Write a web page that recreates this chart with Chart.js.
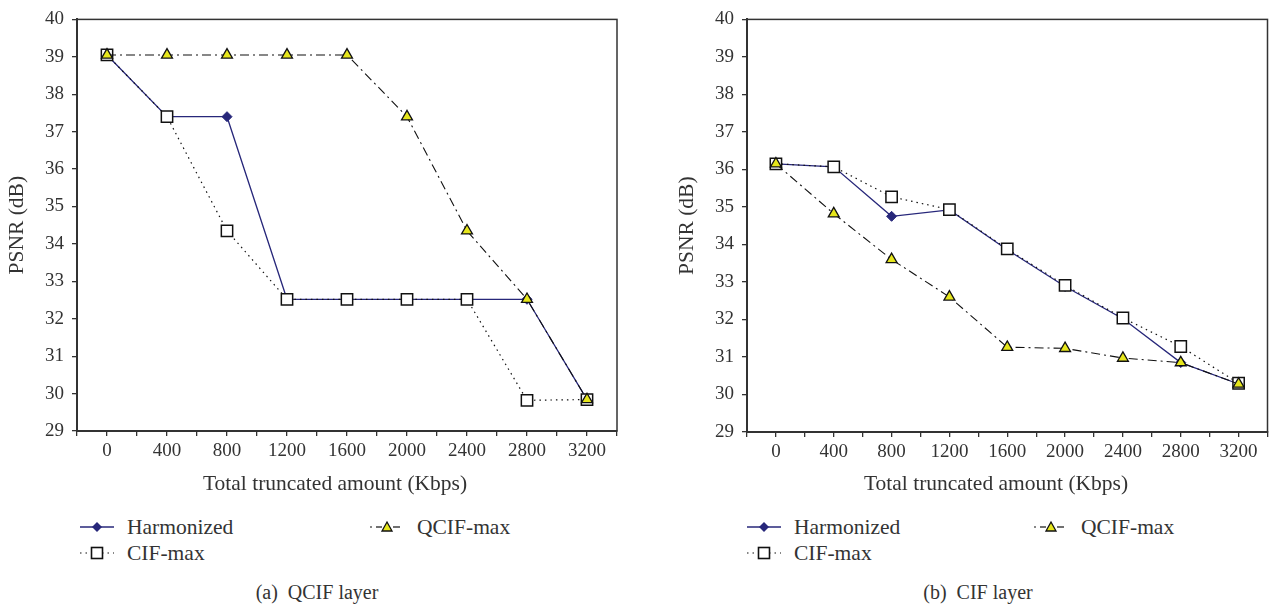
<!DOCTYPE html>
<html><head><meta charset="utf-8">
<script src="https://cdn.jsdelivr.net/npm/chart.js@4.4.1/dist/chart.umd.min.js"></script>
<style>
html,body{margin:0;padding:0;background:#fff}
body{width:1277px;height:604px;overflow:hidden;position:relative;font-family:"Liberation Serif","DejaVu Serif",serif;color:#333}
.box{position:absolute}
.li{position:absolute;font-size:21.5px;line-height:22px;white-space:nowrap;display:flex;align-items:center}
.li svg{margin-right:12px}
.cap{position:absolute;font-size:20px;line-height:22px;white-space:nowrap;transform:translate(-50%,-50%)}
.xt{position:absolute;font-size:21.5px;line-height:24px;white-space:nowrap;transform:translate(-50%,-50%)}
</style></head>
<body>
<div class="box" style="left:0;top:0;width:630px;height:500px"><canvas id="c1"></canvas></div>
<div class="box" style="left:640px;top:0;width:637px;height:500px"><canvas id="c2"></canvas></div>
<div id="legends"></div>
<div class="xt" id="xt1" style="left:335px;top:483px"></div>
<div class="xt" id="xt2" style="left:996px;top:483px"></div>
<div class="cap" style="left:317px;top:592px">(a)&nbsp; QCIF layer</div>
<div class="cap" style="left:978px;top:592px">(b)&nbsp; CIF layer</div>
<script>
// ---- data ----
const truncatedKbps = [0, 400, 800, 1200, 1600, 2000, 2400, 2800, 3200];
const seriesNames = ['Harmonized', 'QCIF-max', 'CIF-max'];
const xTitle = 'Total truncated amount (Kbps)';
const yTitle = 'PSNR (dB)';
// (a) QCIF layer
const qcifHarmonized = [39.05, 37.4, 37.4, 32.52, 32.52, 32.52, 32.52, 32.52, 29.84];
const qcifQcifMax    = [39.05, 39.05, 39.05, 39.05, 39.05, 37.4, 34.35, 32.52, 29.84];
const qcifCifMax     = [39.05, 37.4, 34.35, 32.52, 32.52, 32.52, 32.52, 29.82, 29.84];
// (b) CIF layer
const cifHarmonized = [36.15, 36.07, 34.75, 34.92, 33.86, 32.88, 32.02, 30.85, 30.28];
const cifQcifMax    = [36.15, 34.82, 33.6, 32.6, 31.26, 31.23, 30.97, 30.85, 30.28];
const cifCifMax     = [36.15, 36.07, 35.27, 34.93, 33.88, 32.91, 32.04, 31.28, 30.3];
const yTicks = {min: 29, max: 40, step: 1};

const FONT = '"Liberation Serif","DejaVu Serif",serif';
const TXT = '#333';
const NAVY = '#27277a';
const YEL = '#e6e61c';

function pts(vals){ return truncatedKbps.map((x,i)=>({x:x, y:vals[i]})); }

function datasets(h, q, c){
  return [
    {label: seriesNames[0], data: pts(h), borderColor: NAVY, borderWidth: 1.3,
     pointStyle: 'rectRot', pointRadius: 5, pointBackgroundColor: NAVY, pointBorderColor: NAVY, pointBorderWidth: 1, order: 3},
    {label: seriesNames[1], data: pts(q), borderColor: '#111', borderWidth: 1.1, borderDash: [9,4,2,4],
     pointStyle: 'triangle', pointRadius: 6.3, pointBackgroundColor: YEL, pointBorderColor: '#111', pointBorderWidth: 1.3, order: 1},
    {label: seriesNames[2], data: pts(c), borderColor: '#111', borderWidth: 1.2, borderDash: [1.5,4],
     pointStyle: 'rect', pointRadius: 8, pointBackgroundColor: '#fff', pointBorderColor: '#111', pointBorderWidth: 1.5, order: 2}
  ];
}

const frame = {
  id: 'frame',
  afterDraw(chart){
    const a = chart.chartArea, ctx = chart.ctx;
    ctx.save();
    ctx.strokeStyle = '#333';
    ctx.lineWidth = 1.5;
    ctx.strokeRect(a.left, a.top, a.right - a.left, a.bottom - a.top);
    ctx.restore();
  }
};

function make(id, h, q, c, pad){
  new Chart(document.getElementById(id), {
    type: 'line',
    data: {datasets: datasets(h, q, c)},
    options: {
      responsive: true, maintainAspectRatio: false, animation: false,
      layout: {padding: pad},
      plugins: {legend: {display: false}, tooltip: {enabled: false}},
      elements: {line: {tension: 0, fill: false}},
      scales: {
        x: {
          type: 'linear', min: -200, max: 3400,
          ticks: {stepSize: 200, autoSkip: false, maxRotation: 0, color: TXT, padding: 4,
                  font: {family: FONT, size: 19},
                  callback: v => (v >= 0 && v <= 3200 && v % 400 === 0) ? String(v) : ''},
          grid: {drawOnChartArea: false, tickLength: 5, color: '#333', lineWidth: 1.3},
          border: {color: '#333', width: 2},
          afterFit: s => { s.height = 61.5; }
        },
        y: {
          min: yTicks.min, max: yTicks.max,
          ticks: {stepSize: yTicks.step, color: TXT, padding: 8, font: {family: FONT, size: 19}},
          grid: {drawOnChartArea: false, tickLength: 5, color: '#333', lineWidth: 1.3},
          border: {color: '#333', width: 2},
          title: {display: true, text: yTitle, color: TXT, padding: 0, font: {family: FONT, size: 21.5}},
          afterFit: s => { s.width = 73; }
        }
      }
    },
    plugins: [frame]
  });
}

make('c1', qcifHarmonized, qcifQcifMax, qcifCifMax, {left: 4, top: 10.5, right: 13, bottom: 7.5});
make('c2', cifHarmonized, cifQcifMax, cifCifMax, {left: 34, top: 13, right: 6, bottom: 6.5});

document.getElementById('xt1').textContent = xTitle;
document.getElementById('xt2').textContent = xTitle;

// ---- legends (HTML) ----
function sample(kind){
  let s = `<svg width="36" height="20" viewBox="0 0 36 20">`;
  if (kind === 0){
    s += `<line x1="1" y1="10" x2="35" y2="10" stroke="${NAVY}" stroke-width="1.5"/>`;
    s += `<polygon points="18,5 23,10 18,15 13,10" fill="${NAVY}"/>`;
  } else if (kind === 1){
    s += `<line x1="1" y1="10" x2="3" y2="10" stroke="#111" stroke-width="1.2"/>`;
    s += `<line x1="7" y1="10" x2="13" y2="10" stroke="#111" stroke-width="1.2"/>`;
    s += `<line x1="24" y1="10" x2="31" y2="10" stroke="#111" stroke-width="1.2"/>`;
    s += `<polygon points="18,5 23,14 13,14" fill="${YEL}" stroke="#111" stroke-width="1.3"/>`;
  } else {
    s += `<line x1="1" y1="10" x2="35" y2="10" stroke="#111" stroke-width="1.2" stroke-dasharray="1.5,4"/>`;
    s += `<rect x="12.5" y="4.5" width="11" height="11" fill="#fff" stroke="#111" stroke-width="1.6"/>`;
  }
  return s + '</svg>';
}
const legendPos = [
  [[79,516],[369,516],[79,542]],
  [[746,516],[1033,516],[746,542]]
];
let html = '';
legendPos.forEach(set => set.forEach((p, k) => {
  html += `<div class="li" style="left:${p[0]}px;top:${p[1]}px">${sample(k)}<span>${seriesNames[k]}</span></div>`;
}));
document.getElementById('legends').innerHTML = html;
</script>
</body></html>
